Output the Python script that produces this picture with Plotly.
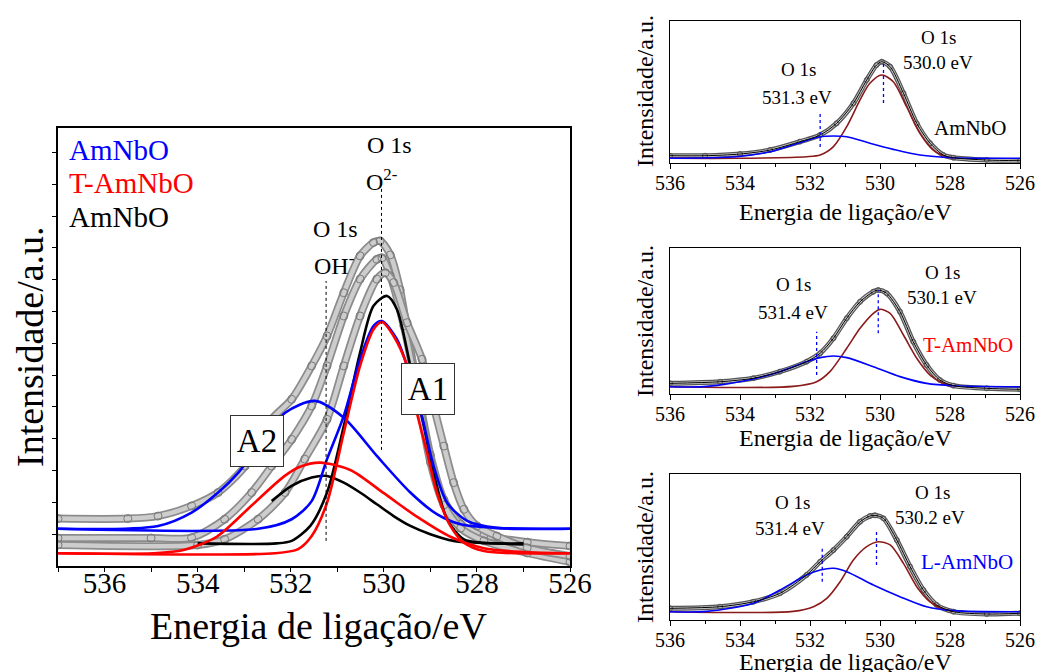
import plotly.graph_objects as go

W, H = 1038, 672
FONT = "Liberation Serif, Times New Roman, serif"

# ---------------- main panel data (binding energy eV, intensity a.u.) ----------------
G1_E = [537, 535.5, 534.85, 534.13, 533.56, 532.98, 532.41, 531.98, 531.55, 531.22, 530.86, 530.51, 530.22, 530.08,
        529.86, 529.65, 529.5, 529.29, 529.0, 528.71, 528.35, 527.85, 526.92, 526.0]
G1_I = [1.49, 1.49, 1.57, 1.89, 2.31, 3.14, 4.61, 5.24, 6.29, 7.23, 8.59, 9.75, 10.17, 10.22,
        9.78, 8.68, 7.42, 5.69, 3.49, 2.08, 1.32, 0.97, 0.75, 0.63]
G2_E = [537, 535, 534.13, 533.42, 532.84, 532.41, 531.98, 531.55, 531.22, 530.86, 530.51, 530.15, 530.04,
        529.86, 529.57, 529.29, 529.0, 528.71, 528.35, 527.85, 526.92, 526.0]
G2_I = [0.88, 0.88, 0.89, 1.47, 2.31, 3.14, 3.98, 5.03, 6.29, 7.86, 9.02, 9.64, 9.69,
        9.12, 7.55, 5.53, 3.27, 1.92, 1.19, 0.79, 0.41, 0.13]
G3_E = [537, 534, 533.42, 532.7, 532.12, 531.7, 531.22, 530.86, 530.51, 530.15, 529.97, 529.79, 529.5,
        529.18, 528.93, 528.71, 528.5, 528.28, 528.0, 527.57, 526.92, 526.0]
G3_I = [0.66, 0.66, 0.84, 1.47, 2.31, 3.36, 4.61, 6.29, 7.86, 9.02, 9.22, 8.91, 7.65,
        6.50, 5.03, 3.77, 2.62, 1.78, 1.26, 0.94, 0.57, 0.31]

BLUE_A2_E = [537, 534.85, 534.13, 533.56, 533.13, 532.6, 532.12, 531.48, 530.86, 530.15, 529.43, 528.86, 528.35, 527.64, 526]
BLUE_A2_I = [1.17, 1.26, 1.68, 2.31, 2.93, 3.96, 4.82, 5.19, 4.66, 3.46, 2.31, 1.63, 1.31, 1.20, 1.17]
BLUE_A1_E = [537, 532.7, 531.98, 531.55, 531.22, 530.86, 530.51, 530.22, 530.04, 529.72, 529.5, 529.2, 528.93,
             528.64, 528.21, 527.57, 526]
BLUE_A1_I = [1.17, 1.17, 1.47, 2.04, 3.36, 4.72, 6.50, 7.55, 7.70, 7.13, 6.29, 4.82, 3.14,
             1.99, 1.42, 1.20, 1.17]
RED_A2_E = [537, 534.94, 534.3, 533.59, 532.87, 532.15, 531.8, 531.37, 530.72, 530.0, 529.29, 528.57, 527.85, 527.0, 526]
RED_A2_I = [0.40, 0.40, 0.50, 0.92, 1.86, 2.81, 3.12, 3.25, 3.02, 2.29, 1.55, 0.92, 0.56, 0.44, 0.40]
RED_A1_E = [537, 532.34, 531.84, 531.55, 531.22, 530.86, 530.51, 530.22, 530.04, 529.79, 529.5, 529.29, 529.07,
            528.86, 528.57, 528.28, 527.85, 526]
RED_A1_I = [0.40, 0.40, 0.53, 0.94, 1.99, 4.19, 6.29, 7.44, 7.67, 7.23, 6.29, 4.82, 3.56,
            2.31, 1.26, 0.73, 0.47, 0.40]
BLK_A1_E = [534.0, 532.3, 531.98, 531.58, 531.22, 530.86, 530.51, 530.22, 529.93, 529.72, 529.43, 529.14, 528.93,
            528.64, 528.28, 527.85, 527.0]
BLK_A1_I = [0.71, 0.71, 0.79, 1.26, 2.31, 4.40, 6.71, 8.18, 8.49, 8.07, 6.29, 4.40, 2.93,
            1.47, 0.84, 0.73, 0.71]
BLK_A2_E = [532.41, 531.98, 531.55, 531.22, 530.86, 530.51, 530.15, 529.79, 529.43, 529.0, 528.5, 528.0, 527.0]
BLK_A2_I = [2.04, 2.52, 2.78, 2.83, 2.62, 2.31, 1.94, 1.57, 1.26, 1.00, 0.79, 0.73, 0.68]

# ---------------- small panels (intensity in % of panel height) ----------------
P1_DATA_E = [536, 535, 534, 533.14, 532.29, 531.71, 531.24, 530.76, 530.38, 530.1, 529.95, 529.71, 529.33,
             528.95, 528.57, 528.19, 527.9, 526.95, 526]
P1_DATA_I = [4.9, 4.9, 6.1, 8.9, 14.8, 19.5, 27.7, 41.8, 58.2, 68.8, 71.1, 67.6, 48.9,
             27.7, 13.7, 5.4, 3.5, 1.9, 1.4]
P1_A1_E = [536, 534.1, 532.1, 531.71, 531.33, 530.95, 530.57, 530.29, 529.95, 529.62, 529.24, 528.86, 528.48, 528.1, 527.9]
P1_A1_I = [3.1, 3.1, 4.2, 5.4, 11.3, 25.4, 44.2, 55.9, 61.8, 57.0, 39.4, 20.7, 8.9, 4.2, 3.1]
P1_A2_E = [536, 534.1, 533.14, 532.29, 531.71, 531.33, 530.95, 530.29, 529.62, 528.86, 527.9, 526]
P1_A2_I = [3.1, 4.2, 7.7, 14.1, 18.3, 18.8, 18.3, 13.7, 9.4, 5.4, 3.5, 3.1]

P2_DATA_E = [536, 534.57, 533.62, 532.86, 532.1, 531.71, 531.33, 530.95, 530.57, 530.19, 530.05, 529.81, 529.43,
             529.05, 528.67, 528.29, 527.9, 526.95, 526]
P2_DATA_I = [7.5, 8.6, 11.0, 15.5, 22.3, 28.1, 38.4, 52.1, 63.4, 70.3, 71.4, 69.2, 56.6,
             36.0, 20.1, 9.8, 5.9, 4.1, 3.4]
P2_A1_E = [536, 532.48, 531.81, 531.43, 530.95, 530.57, 530.19, 530.0, 529.71, 529.33, 528.95, 528.57, 528.19, 527.9]
P2_A1_I = [5.2, 5.4, 8.6, 15.5, 31.5, 45.2, 55.5, 58.2, 55.5, 40.6, 24.7, 13.2, 7.5, 5.7]
P2_A2_E = [536, 534.95, 533.62, 532.86, 532.1, 531.71, 531.33, 530.95, 530.19, 529.43, 528.67, 527.9, 526]
P2_A2_I = [5.2, 5.4, 10.5, 15.5, 22.3, 25.1, 26.2, 25.1, 18.9, 12.1, 7.5, 5.9, 5.2]

P3_DATA_E = [536, 534.57, 533.62, 532.86, 532.1, 531.71, 531.33, 530.95, 530.57, 530.29, 530.14, 529.9, 529.52,
             529.14, 528.76, 528.38, 527.9, 526.95, 526]
P3_DATA_I = [8.0, 9.1, 12.5, 18.3, 30.8, 39.9, 47.9, 57.1, 67.3, 71.2, 71.7, 69.6, 54.8,
             36.5, 20.5, 10.3, 5.7, 4.1, 4.6]
P3_A1_E = [536, 532.48, 531.9, 531.52, 531.14, 530.76, 530.38, 530.05, 529.71, 529.33, 528.95, 528.57, 528.19, 527.9]
P3_A1_I = [5.7, 5.9, 9.1, 14.8, 26.2, 41.1, 50.2, 53.6, 51.4, 38.8, 22.8, 12.5, 7.5, 5.9]
P3_A2_E = [536, 534.95, 533.62, 532.86, 532.1, 531.71, 531.33, 530.95, 530.19, 529.43, 528.67, 527.9, 526]
P3_A2_I = [5.7, 5.9, 11.4, 20.5, 30.8, 34.2, 35.4, 33.1, 24.0, 16.0, 9.1, 6.4, 5.7]

X_TICKS = [536, 534, 532, 530, 528, 526]
X_TICK_TEXT = ["536", "534", "532", "530", "528", "526"]

BLUE, RED, BLACK, BROWN = "#0000FF", "#FF0000", "#000000", "#8B1A1A"


def px(x):
    return x / W


def py(y):
    return 1 - y / H


fig = go.Figure()


def tube(E, I, xa, ya, outer, inner, wo, wi, msize, mcol):
    fig.add_trace(go.Scatter(x=E, y=I, xaxis=xa, yaxis=ya, mode="lines",
                             line=dict(color=outer, width=wo, shape="spline", smoothing=0.8),
                             hoverinfo="skip", showlegend=False))
    fig.add_trace(go.Scatter(x=E, y=I, xaxis=xa, yaxis=ya, mode="lines+markers",
                             line=dict(color=inner, width=wi, shape="spline", smoothing=0.8),
                             marker=dict(symbol="circle-open", size=msize, color=mcol, line=dict(width=1)),
                             hoverinfo="skip", showlegend=False))


def line(E, I, xa, ya, color, width):
    fig.add_trace(go.Scatter(x=E, y=I, xaxis=xa, yaxis=ya, mode="lines",
                             line=dict(color=color, width=width, shape="spline", smoothing=0.8),
                             hoverinfo="skip", showlegend=False))


# main panel
for E, I in [(G1_E, G1_I), (G2_E, G2_I), (G3_E, G3_I)]:
    tube(E, I, "x", "y", "#8c8c8c", "#cdcdcd", 8, 4.5, 8, "#7a7a7a")
line(BLK_A2_E, BLK_A2_I, "x", "y", BLACK, 2.6)
line(BLK_A1_E, BLK_A1_I, "x", "y", BLACK, 2.6)
line(BLUE_A2_E, BLUE_A2_I, "x", "y", BLUE, 2.6)
line(BLUE_A1_E, BLUE_A1_I, "x", "y", BLUE, 2.6)
line(RED_A2_E, RED_A2_I, "x", "y", RED, 2.6)
line(RED_A1_E, RED_A1_I, "x", "y", RED, 2.6)

# small panels
for (DE, DI, A1E, A1I, A2E, A2I, xa, ya) in [
        (P1_DATA_E, P1_DATA_I, P1_A1_E, P1_A1_I, P1_A2_E, P1_A2_I, "x2", "y2"),
        (P2_DATA_E, P2_DATA_I, P2_A1_E, P2_A1_I, P2_A2_E, P2_A2_I, "x3", "y3"),
        (P3_DATA_E, P3_DATA_I, P3_A1_E, P3_A1_I, P3_A2_E, P3_A2_I, "x4", "y4")]:
    tube(DE, DI, xa, ya, "#555555", "#cfcfcf", 5, 2.5, 5, "#555555")
    line(A1E, A1I, xa, ya, BROWN, 1.6)
    line(A2E, A2I, xa, ya, BLUE, 1.6)
    line(DE, DI, xa, ya, BLACK, 1.0)

# ---------------- axes ----------------
main_dom_x = [px(58), px(570)]
main_dom_y = [py(566), py(128)]
small_dom_x = [px(670), px(1020)]
small_dom_y = [[py(162.7), py(20.7)], [py(394.3), py(248.3)], [py(620), py(474)]]

common_x = dict(autorange=False, automargin=False, showline=True, mirror=True, linecolor="black", showgrid=False,
                zeroline=False, ticks="outside", tickvals=X_TICKS, ticktext=X_TICK_TEXT,
                tickcolor="black")
common_y = dict(automargin=False, showline=True, mirror=True, linecolor="black", showgrid=False, zeroline=False,
                showticklabels=False)

layout = dict(
    width=W, height=H, margin=dict(l=0, r=0, t=0, b=0, pad=0, autoexpand=False),
    paper_bgcolor="white", plot_bgcolor="white", showlegend=False,
    font=dict(family=FONT, color="black"),
    xaxis=dict(common_x, domain=main_dom_x, range=[537, 526], anchor="y", linewidth=1.6,
               ticklen=4, tickwidth=1.2, tickfont=dict(size=29, family=FONT), ticklabelstandoff=-14,
               minor=dict(tickvals=[537, 535, 533, 531, 529, 527], ticks="outside", ticklen=4, tickwidth=1.2,
                          tickcolor="black")),
    yaxis=dict(common_y, domain=main_dom_y, range=[0, 13.77], anchor="x", linewidth=1.6,
               ticks="outside", tickvals=list(range(1, 14)), ticklen=4, tickwidth=1.2, tickcolor="black"),
)
for k, (xa, ya) in enumerate([("xaxis2", "yaxis2"), ("xaxis3", "yaxis3"), ("xaxis4", "yaxis4")]):
    n = k + 2
    layout[xa] = dict(common_x, domain=small_dom_x, range=[536, 526], anchor=f"y{n}", linewidth=1.3,
                      ticklen=5, tickwidth=1, tickfont=dict(size=20, family=FONT), ticklabelstandoff=-3,
                      minor=dict(tickvals=[535, 533, 531, 529, 527], ticks="outside", ticklen=3, tickwidth=1,
                                 tickcolor="black"))
    layout[ya] = dict(common_y, domain=small_dom_y[k], range=[0, 100], anchor=f"x{n}", linewidth=1.3, ticks="")
fig.update_layout(**layout)

# ---------------- text ----------------
ann = []


def txt(x, y, s, size, color="black", xanchor="center"):
    ann.append(dict(x=px(x), y=py(y), xref="paper", yref="paper", text=s, showarrow=False,
                    font=dict(size=size, color=color, family=FONT), xanchor=xanchor, yanchor="middle"))


# main
txt(318, 626, "Energia de ligação/eV", 38)
ann.append(dict(x=px(30), y=py(347), xref="paper", yref="paper", text="Intensidade/a.u.", showarrow=False,
                textangle=-90, font=dict(size=38, family=FONT, color="black"), xanchor="center", yanchor="middle"))
txt(67, 150, "AmNbO", 29, BLUE, "left")
txt(67, 183, "T-AmNbO", 29, RED, "left")
txt(67, 217, "AmNbO", 29, BLACK, "left")
txt(389, 145, "O 1s", 24)
txt(381, 180, "O<sup>2-</sup>", 24)
txt(335, 229, "O 1s", 24)
txt(334, 264, "OH<sup>-</sup>", 24)
for x, y, s in [(428, 389, "A1"), (257, 441, "A2")]:
    ann.append(dict(x=px(x), y=py(y), xref="paper", yref="paper", text=s, showarrow=False,
                    font=dict(size=33, family=FONT, color="black"), bgcolor="white", bordercolor="#333333",
                    borderwidth=1, width=50, height=48, xanchor="center", yanchor="middle"))

# small panels
for (xc, yc, ylab_y) in [(845, 212, 91), (845, 438, 321), (845, 662, 547)]:
    txt(xc, yc, "Energia de ligação/eV", 24)
    ann.append(dict(x=px(645), y=py(ylab_y), xref="paper", yref="paper", text="Intensidade/a.u.",
                    showarrow=False, textangle=-90, font=dict(size=24, family=FONT, color="black"),
                    xanchor="center", yanchor="middle"))
txt(938, 37, "O 1s", 19)
txt(938, 62, "530.0 eV", 19)
txt(798, 70, "O 1s", 19)
txt(797, 97, "531.3 eV", 19)
txt(970, 128, "AmNbO", 21)
txt(942, 272, "O 1s", 19)
txt(942, 297, "530.1 eV", 19)
txt(793, 285, "O 1s", 19)
txt(793, 312, "531.4 eV", 19)
txt(968, 345, "T-AmNbO", 21, RED)
txt(932, 493, "O 1s", 19)
txt(930, 517, "530.2 eV", 19)
txt(792, 502, "O 1s", 19)
txt(790, 528, "531.4 eV", 19)
txt(967, 562, "L-AmNbO", 21, BLUE)
fig.update_layout(annotations=ann)

# dotted guide lines
shapes = [
    dict(type="line", xref="x", yref="y", x0=530.05, x1=530.05, y0=3.65, y1=11.89,
         line=dict(color="black", width=1, dash="dot")),
    dict(type="line", xref="x", yref="y", x0=531.24, x1=531.24, y0=0.79, y1=8.96,
         line=dict(color="black", width=1, dash="dot")),
]
for xr, yr, lines in [("x2", "y2", [(531.71, 11, 35), (529.9, 42, 70)]),
                      ("x3", "y3", [(531.81, 13.2, 42.9), (530.05, 41.8, 71.4)]),
                      ("x4", "y4", [(531.65, 26.2, 49.1), (530.1, 37.7, 61.6)])]:
    for x0, y0, y1 in lines:
        shapes.append(dict(type="line", xref=xr, yref=yr, x0=x0, x1=x0, y0=y0, y1=y1,
                           line=dict(color=BLUE, width=1.3, dash="dot")))
fig.update_layout(shapes=shapes)

fig.write_html("out.html")
